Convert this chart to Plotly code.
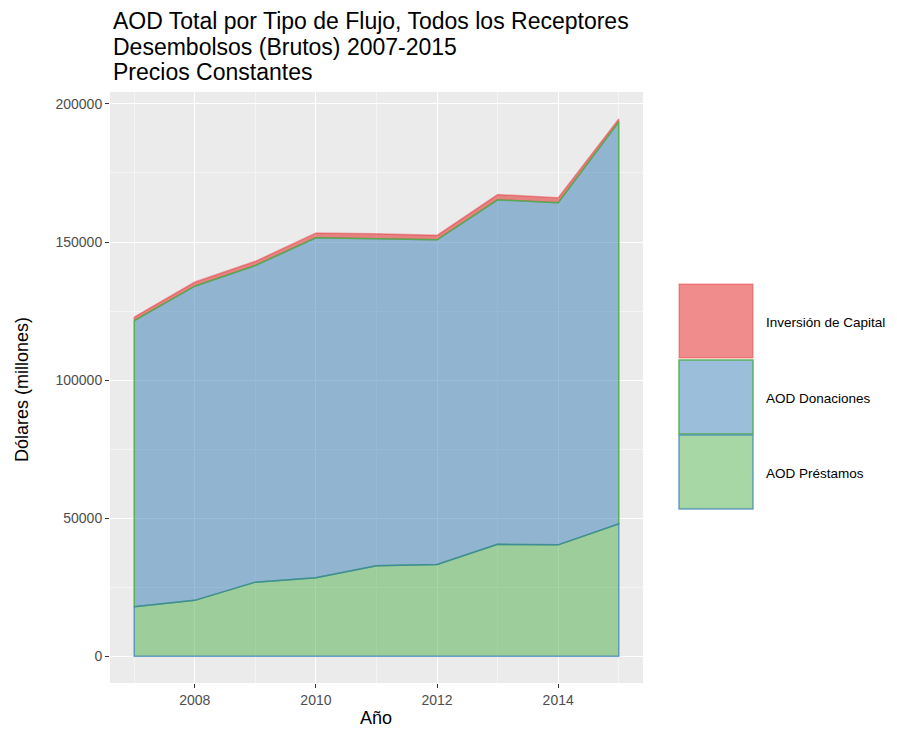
import plotly.graph_objects as go
import numpy as np

years = [2007, 2008, 2009, 2010, 2011, 2012, 2013, 2014, 2015]
prestamos = [17900, 20200, 26800, 28400, 32700, 33200, 40500, 40300, 47900]
donaciones = [103600, 113800, 114700, 123100, 118500, 117600, 124800, 123900, 145600]
inversion = [1300, 1500, 1500, 1800, 1800, 1600, 1900, 1800, 1100]

series_names = ["AOD Préstamos", "AOD Donaciones", "Inversión de Capital"]
fill_colors = ["rgba(77,175,74,0.5)", "rgba(55,126,184,0.5)", "rgba(228,26,28,0.5)"]
line_colors = ["rgba(55,126,184,0.7)", "rgba(77,175,74,0.9)", "rgba(228,26,28,0.35)"]
title_lines = ["AOD Total por Tipo de Flujo, Todos los Receptores",
               "Desembolsos (Brutos) 2007-2015",
               "Precios Constantes"]

# the page body has an 8px margin; work in window pixels and convert
OFF = 8
W, H = 897 - OFF, 729 - OFF
ML, MT = 110 - OFF, 92 - OFF
PR, PB = 643 - OFF, 683 - OFF
MR, MB = W - PR, H - PB
PW, PH = W - ML - MR, H - MT - MB

fig = go.Figure()
polys = []
base = np.zeros(len(years))
for name, vals, fc, lc in zip(series_names, [prestamos, donaciones, inversion], fill_colors, line_colors):
    top = base + np.array(vals, dtype=float)
    xs = years + years[::-1] + [years[0]]
    ys = list(top) + list(base[::-1]) + [top[0]]
    polys.append((name, xs, ys, fc, lc))
    base = top

# ggplot draws the top group first, the bottom group last
for name, xs, ys, fc, lc in polys[::-1]:
    fig.add_trace(go.Scatter(x=xs, y=ys, fill="toself", fillcolor=fc, mode="lines",
                             line=dict(color=lc, width=1.5), name=name, showlegend=False,
                             hoverinfo="skip"))

fig.update_layout(
    width=W, height=H,
    margin=dict(l=ML, r=MR, t=MT, b=MB, autoexpand=False),
    paper_bgcolor="white", plot_bgcolor="#EBEBEB",
    font=dict(family="Liberation Sans, Arial, sans-serif", color="black"),
    xaxis=dict(range=[2006.6, 2015.4], tickvals=[2008, 2010, 2012, 2014], ticks="outside", ticklen=4,
               tickcolor="#333333", tickfont=dict(size=14, color="#4D4D4D"), showgrid=True,
               gridcolor="white", gridwidth=1.2, zeroline=False, showline=False, automargin=False,
               minor=dict(tickvals=[2007, 2009, 2011, 2013, 2015], showgrid=True, gridcolor="#F5F5F5", gridwidth=0.6, ticks="")),
    yaxis=dict(range=[-9730, 204330], tickvals=[0, 50000, 100000, 150000, 200000], ticks="outside", ticklen=4,
               tickcolor="#333333", tickfont=dict(size=14, color="#4D4D4D"), showgrid=True,
               gridcolor="white", gridwidth=1.2, zeroline=False, showline=False, tickformat="d", automargin=False,
               minor=dict(tickvals=[25000, 75000, 125000, 175000], showgrid=True, gridcolor="#F5F5F5", gridwidth=0.6, ticks="")),
)

def px_x(p):
    return (p - OFF - ML) / PW

def px_y(p):
    return (MT + PH - (p - OFF)) / PH

# title lines
for t, yc in zip(title_lines, [21, 46.5, 72]):
    fig.add_annotation(xref="paper", yref="paper", x=px_x(111), y=px_y(yc), text=t,
                       showarrow=False, xanchor="left", yanchor="middle", font=dict(size=23, color="black"))

# axis titles
fig.add_annotation(xref="paper", yref="paper", x=px_x(376), y=px_y(718), text="Año", showarrow=False,
                   xanchor="center", yanchor="middle", font=dict(size=18, color="black"))
fig.add_annotation(xref="paper", yref="paper", x=px_x(22), y=px_y(390), text="Dólares (millones)",
                   showarrow=False, textangle=-90, xanchor="center", yanchor="middle",
                   font=dict(size=18, color="black"))

keys = [(284, 358, 322.5, fill_colors[2], "rgba(228,26,28,0.3)", "Inversión de Capital"),
        (360, 434, 398, fill_colors[1], line_colors[1], "AOD Donaciones"),
        (435, 509, 473, fill_colors[0], line_colors[0], "AOD Préstamos")]
for y0, y1, yt, fc, lc, label in keys:
    fig.add_shape(type="rect", xref="paper", yref="paper", x0=px_x(679), x1=px_x(753),
                  y0=px_y(y1), y1=px_y(y0), fillcolor=fc, line=dict(color=lc, width=1.5), layer="above")
    fig.add_annotation(xref="paper", yref="paper", x=px_x(764), y=px_y(yt), text=label,
                       showarrow=False, xanchor="left", yanchor="middle", font=dict(size=13.5, color="black"))

fig.write_html("out.html")
